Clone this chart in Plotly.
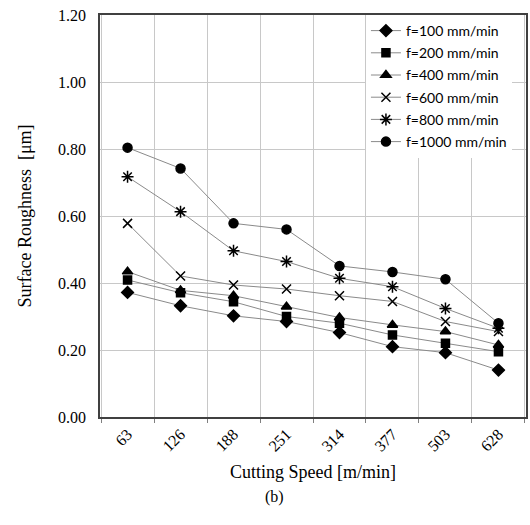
import plotly.graph_objects as go

speeds = ["63", "126", "188", "251", "314", "377", "503", "628"]
f100 = [0.372, 0.332, 0.302, 0.285, 0.252, 0.210, 0.192, 0.140]
f200 = [0.409, 0.371, 0.344, 0.300, 0.280, 0.245, 0.220, 0.195]
f400 = [0.434, 0.378, 0.362, 0.329, 0.297, 0.275, 0.255, 0.215]
f600 = [0.578, 0.421, 0.394, 0.382, 0.362, 0.345, 0.285, 0.255]
f800 = [0.717, 0.613, 0.496, 0.464, 0.414, 0.389, 0.324, 0.265]
f1000 = [0.804, 0.742, 0.578, 0.560, 0.451, 0.433, 0.411, 0.280]

series = [
    ("f=100 mm/min", f100, "diamond", 9),
    ("f=200 mm/min", f200, "square", 8),
    ("f=400 mm/min", f400, "triangle-up", 9),
    ("f=600 mm/min", f600, "x-thin-open", 9),
    ("f=800 mm/min", f800, "asterisk-open", 10),
    ("f=1000 mm/min", f1000, "circle", 9),
]

fig = go.Figure()
for i, (name, vals, sym, sz) in enumerate(series):
    fig.add_trace(go.Scatter(
        x=speeds, y=vals, name=name, mode="lines+markers",
        legendgroup=str(i),
        line=dict(color="#8a8a8a", width=1),
        marker=dict(symbol=sym, size=sz, color="black",
                    line=dict(color="black", width=1.5)),
    ))

serif = "Liberation Serif"
fig.update_layout(
    width=530, height=525,
    margin=dict(l=100, r=4, t=15, b=108),
    paper_bgcolor="white", plot_bgcolor="white",
    showlegend=True,
    legend=dict(
        x=0.967, xanchor="right", y=1, yanchor="top",
        bgcolor="white", borderwidth=0,
        font=dict(family="Lato", size=14, color="black"),
        itemwidth=30, tracegroupgap=1,
    ),
    xaxis=dict(
        type="category", tickson="boundaries", tickangle=-45,
        automargin=False,
        showgrid=True, gridcolor="#c8c8c8", gridwidth=1,
        showline=True, mirror=True, linecolor="#404040", linewidth=1.5,
        ticks="outside", ticklen=4, tickcolor="#808080",
        tickfont=dict(family=serif, size=16, color="black"),
        title=dict(text="Cutting Speed [m/min]", standoff=12,
                   font=dict(family=serif, size=18, color="black")),
    ),
    yaxis=dict(
        range=[0, 1.2], dtick=0.2, tickformat=".2f",
        automargin=False,
        showgrid=True, gridcolor="#c8c8c8", gridwidth=1,
        showline=True, mirror=True, linecolor="#404040", linewidth=1.5,
        zeroline=False, ticks="", ticklabelstandoff=9,
        tickfont=dict(family=serif, size=16, color="black"),
        title=dict(text="Surface Roughness  [μm]", standoff=22,
                   font=dict(family=serif, size=18, color="black")),
    ),
    annotations=[dict(
        text="(b)", xref="paper", yref="paper", x=0.41, y=-0.2,
        xanchor="center", yanchor="middle", showarrow=False,
        font=dict(family=serif, size=16, color="black"),
    )],
)

fig.write_html("out.html", config={"displayModeBar": False},
               post_script="document.body.style.margin='0';")
